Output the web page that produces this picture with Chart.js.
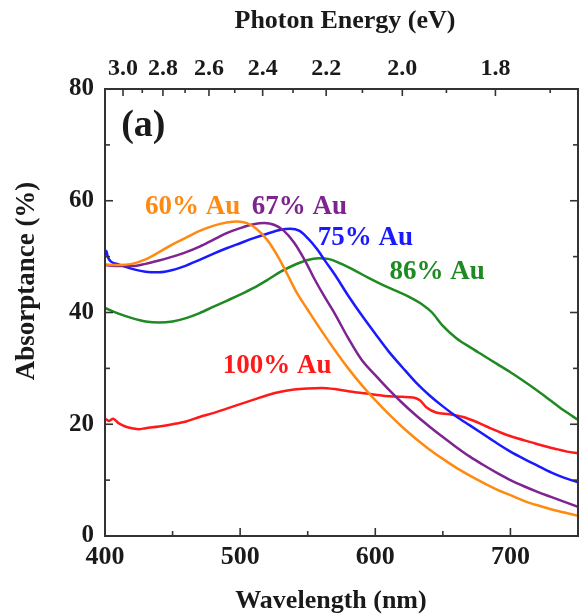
<!DOCTYPE html>
<html>
<head>
<meta charset="utf-8">
<script src="https://cdn.jsdelivr.net/npm/chart.js@4/dist/chart.umd.min.js"></script>
<style>
html,body{margin:0;padding:0;background:#fff;}
#wrap{width:581px;height:616px;}
</style>
</head>
<body>
<div id="wrap"><canvas id="c" width="581" height="616"></canvas></div>
<script>
// ---- Data ----
const wavelengthTicks = [400, 500, 600, 700];
const wavelengthMinor = [450, 550, 650];
const absorptanceTicks = [0, 20, 40, 60, 80];
const absorptanceMinor = [10, 30, 50, 70];
const energyTicks = [3.0, 2.8, 2.6, 2.4, 2.2, 2.0, 1.8];
const energyMinor = [2.9, 2.7, 2.5, 2.3, 2.1, 1.9, 1.7];

const seriesNames = ['60% Au', '67% Au', '75% Au', '86% Au', '100% Au'];

const au60 = [[400,48.6],[410,48.5],[420,48.7],[430,49.5],[440,50.8],[450,52.2],[460,53.4],[470,54.6],[480,55.5],[490,56.1],[498,56.3],[505,56.0],[512,55.0],[520,53.0],[528,50.0],[535,46.8],[542,43.5],[550,40.5],[560,36.8],[570,33.3],[580,30.0],[590,27.0],[600,24.3],[610,21.8],[620,19.5],[630,17.4],[640,15.5],[650,13.8],[660,12.2],[670,10.8],[680,9.5],[690,8.3],[700,7.3],[710,6.3],[720,5.5],[730,4.8],[740,4.2],[750,3.6]];
const au67 = [[400,48.5],[410,48.3],[420,48.3],[430,48.7],[440,49.3],[450,50.0],[460,50.8],[470,51.8],[480,53.0],[490,54.2],[500,55.1],[510,55.8],[518,56.0],[525,55.7],[532,54.7],[540,52.5],[548,49.3],[555,46.0],[562,43.0],[570,39.8],[580,35.4],[590,31.5],[600,28.8],[610,26.2],[620,23.8],[630,21.6],[640,19.6],[650,17.7],[660,15.9],[670,14.2],[680,12.7],[690,11.3],[700,10.0],[710,8.9],[720,7.9],[730,7.0],[740,6.1],[750,5.2]];
const au75 = [[400,50.6],[401,51.0],[402,50.0],[404,49.2],[410,48.6],[420,47.8],[430,47.3],[440,47.2],[450,47.6],[460,48.4],[470,49.4],[480,50.5],[490,51.5],[500,52.4],[510,53.3],[520,54.1],[530,54.8],[537,55.0],[544,54.6],[550,53.3],[557,51.3],[563,49.2],[570,46.8],[580,43.0],[590,39.5],[600,36.2],[610,33.0],[620,30.2],[630,27.5],[640,25.2],[650,23.2],[660,21.4],[670,19.8],[680,18.2],[690,16.6],[700,15.1],[710,13.8],[720,12.6],[730,11.4],[740,10.4],[750,9.6]];
const au86 = [[400,40.8],[405,40.3],[410,39.8],[420,39.0],[430,38.4],[440,38.2],[450,38.4],[460,39.0],[470,39.9],[480,41.0],[490,42.1],[500,43.2],[510,44.4],[520,45.8],[530,47.3],[540,48.5],[550,49.4],[558,49.7],[565,49.6],[575,48.7],[585,47.5],[595,46.2],[605,45.0],[615,43.9],[625,42.8],[635,41.4],[642,40.0],[650,37.6],[660,35.4],[670,33.8],[680,32.3],[690,30.8],[700,29.3],[710,27.7],[720,26.0],[730,24.2],[740,22.4],[750,20.8]];
const au100 = [[400,21.0],[403,20.6],[406,21.0],[410,20.2],[415,19.6],[420,19.3],[425,19.1],[430,19.3],[440,19.6],[450,20.0],[460,20.5],[470,21.3],[480,22.0],[490,22.8],[500,23.6],[510,24.4],[520,25.2],[530,25.8],[540,26.2],[550,26.4],[560,26.5],[570,26.3],[580,25.9],[590,25.6],[600,25.3],[610,25.0],[620,24.9],[628,24.8],[633,24.3],[638,23.0],[645,22.1],[655,21.8],[665,21.3],[675,20.4],[685,19.3],[695,18.3],[705,17.5],[715,16.8],[725,16.1],[735,15.5],[742,15.1],[750,14.8]];

// ---- Styles ----
const colors = ['#ff8a12', '#7d2490', '#1a1aff', '#1f8a22', '#ff1a1a'];
const seriesData = [au60, au67, au75, au86, au100];
// label anchors (wavelength, absorptance) for in-plot text
const labelAnchors = [[429.6, 58.8], [508.6, 58.8], [557.4, 53.3], [610.6, 47.2], [487.2, 30.4]];
const panelAnchor = [412.0, 73.4];

const FONT = '"Liberation Serif", "Times New Roman", serif';
const INK = '#1a1a1a';

const datasets = seriesData.map((d, i) => ({
  label: seriesNames[i],
  data: d.map(p => ({x: p[0], y: p[1]})),
  borderColor: colors[i],
  backgroundColor: colors[i],
  borderWidth: 2.5,
  pointRadius: 0,
  cubicInterpolationMode: 'monotone',
  fill: false
}));

const framePlugin = {
  id: 'frame',
  afterDraw(chart) {
    const ctx = chart.ctx, a = chart.chartArea;
    const x = chart.scales.x, y = chart.scales.y;
    ctx.save();
    ctx.strokeStyle = '#333';
    ctx.lineWidth = 2;
    ctx.strokeRect(a.left, a.top, a.right - a.left, a.bottom - a.top);
    ctx.lineWidth = 1.6;
    const tick = (x1, y1, x2, y2) => { ctx.beginPath(); ctx.moveTo(x1, y1); ctx.lineTo(x2, y2); ctx.stroke(); };
    wavelengthTicks.forEach(v => { const p = x.getPixelForValue(v); tick(p, a.bottom, p, a.bottom - 8); });
    wavelengthMinor.forEach(v => { const p = x.getPixelForValue(v); tick(p, a.bottom, p, a.bottom - 5); });
    energyTicks.forEach(e => { const p = x.getPixelForValue(1240 / e); tick(p, a.top, p, a.top + 7); });
    energyMinor.forEach(e => { const p = x.getPixelForValue(1240 / e); tick(p, a.top, p, a.top + 4); });
    absorptanceTicks.forEach(v => { const p = y.getPixelForValue(v); tick(a.left, p, a.left + 8, p); tick(a.right, p, a.right - 8, p); });
    absorptanceMinor.forEach(v => { const p = y.getPixelForValue(v); tick(a.left, p, a.left + 5, p); tick(a.right, p, a.right - 5, p); });
    // series labels
    ctx.textAlign = 'left';
    ctx.textBaseline = 'middle';
    ctx.font = 'bold 27px ' + FONT;
    labelAnchors.forEach((an, i) => {
      ctx.fillStyle = colors[i];
      ctx.fillText(seriesNames[i], x.getPixelForValue(an[0]), y.getPixelForValue(an[1]));
    });
    ctx.fillStyle = INK;
    ctx.font = 'bold 38px ' + FONT;
    ctx.fillText('(a)', x.getPixelForValue(panelAnchor[0]), y.getPixelForValue(panelAnchor[1]));
    // axis titles
    ctx.textAlign = 'center';
    ctx.font = 'bold 26px ' + FONT;
    ctx.fillText('Photon Energy (eV)', 345, 21);
    ctx.fillText('Wavelength (nm)', 331, 601);
    ctx.translate(27, 281);
    ctx.rotate(-Math.PI / 2);
    ctx.font = 'bold 27px ' + FONT;
    ctx.fillText('Absorptance (%)', 0, 0);
    ctx.restore();
  }
};

new Chart(document.getElementById('c'), {
  type: 'line',
  data: { datasets },
  options: {
    responsive: false,
    animation: false,
    layout: { padding: { left: 0, right: 3, top: 0, bottom: 0 } },
    plugins: { legend: { display: false }, tooltip: { enabled: false } },
    scales: {
      x: {
        type: 'linear', position: 'bottom', min: 400, max: 750,
        afterBuildTicks: s => { s.ticks = wavelengthTicks.map(v => ({ value: v })); },
        afterFit: s => { s.height = 80; },
        grid: { display: false, drawTicks: false },
        border: { display: false },
        ticks: { color: INK, font: { family: FONT, size: 26, weight: 'bold' }, padding: 6, maxRotation: 0, autoSkip: false }
      },
      x2: {
        type: 'linear', position: 'top', min: 400, max: 750,
        afterBuildTicks: s => { s.ticks = energyTicks.map(e => ({ value: 1240 / e })); },
        afterFit: s => { s.height = 89; },
        grid: { display: false, drawTicks: false },
        border: { display: false },
        ticks: { color: INK, font: { family: FONT, size: 24, weight: 'bold' }, padding: 6, maxRotation: 0, autoSkip: false,
          callback: (v, i) => energyTicks[i].toFixed(1) }
      },
      y: {
        type: 'linear', position: 'left', min: 0, max: 80,
        afterBuildTicks: s => { s.ticks = absorptanceTicks.map(v => ({ value: v })); },
        afterFit: s => { s.width = 105; },
        grid: { display: false, drawTicks: false },
        border: { display: false },
        ticks: { color: INK, font: { family: FONT, size: 25, weight: 'bold' }, padding: 11 }
      }
    }
  },
  plugins: [framePlugin]
});
</script>
</body>
</html>
